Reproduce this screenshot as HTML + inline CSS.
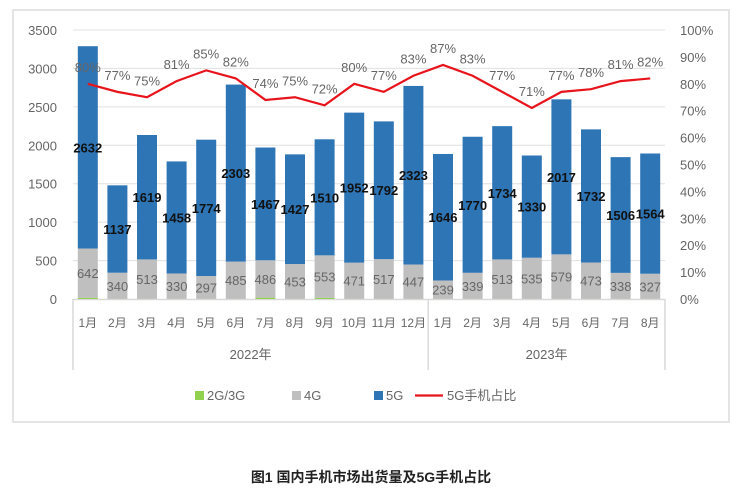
<!DOCTYPE html>
<html><head><meta charset="utf-8"><style>
body{margin:0;background:#fff;width:742px;height:495px;overflow:hidden;font-family:"Liberation Sans","Noto Sans CJK SC",sans-serif}
svg text{font-family:"Liberation Sans","Noto Sans CJK SC",sans-serif}
</style></head><body>
<svg id="c" width="742" height="495">
<rect x="13" y="10" width="716" height="412" fill="#fff" stroke="#e4e4e4" stroke-width="2"/>
<g id="g"></g>
<text x="371" y="482" text-anchor="middle" font-size="14" font-weight="bold" fill="#222">图1 国内手机市场出货量及5G手机占比</text>
</svg>
<script>
const months=["1月","2月","3月","4月","5月","6月","7月","8月","9月","10月","11月","12月","1月","2月","3月","4月","5月","6月","7月","8月"];
const v2g=[15,2,2,2,2,2,18,2,15,2,2,2,2,2,2,2,2,2,2,2];
const v4g=[642,340,513,330,297,485,486,453,553,471,517,447,239,339,513,535,579,473,338,327];
const v5g=[2632,1137,1619,1458,1774,2303,1467,1427,1510,1952,1792,2323,1646,1770,1734,1330,2017,1732,1506,1564];
const pct=[80,77,75,81,85,82,74,75,72,80,77,83,87,83,77,71,77,78,81,82];
const leftTicks=[0,500,1000,1500,2000,2500,3000,3500];
const rightTicks=[0,10,20,30,40,50,60,70,80,90,100];
const X0=73,X1=665,Y0=299,YT=30;
const bw=(X1-X0)/months.length;
const y=v=>Y0-v/3500*(Y0-YT);
const yp=p=>Y0-p/100*(Y0-YT);
const xc=i=>X0+bw*(i+0.5);
const g=document.getElementById('g');
const NS="http://www.w3.org/2000/svg";
function mk(t,a,txt){const e=document.createElementNS(NS,t);for(const k in a)e.setAttribute(k,a[k]);if(txt!==undefined)e.textContent=txt;g.appendChild(e);return e;}
leftTicks.forEach(t=>{
 if(t>0){const l=mk('line',{x1:X0,x2:X1,y1:y(t),y2:y(t),stroke:'#e0e0e0','stroke-width':1});
 
 }
 const e=mk('text',{x:57,y:y(t)+5,'text-anchor':'end','font-size':13,fill:'#666'},t);
 
 
});
rightTicks.forEach(t=>{
 const e=mk('text',{x:680,y:yp(t)+5,'font-size':13,fill:'#666'},t+'%');
 
 
});
const ax=mk('line',{x1:X0,x2:X1,y1:Y0+0.5,y2:Y0+0.5,stroke:'#d9d9d9','stroke-width':1.5});


[X0,X0+bw*12,X1].forEach(xx=>{
 const l=mk('line',{x1:xx,x2:xx,y1:Y0,y2:370,stroke:'#d9d9d9','stroke-width':1.5});
 
 
});
months.forEach((m,i)=>{
 const x=xc(i),w=20;
 const a=v2g[i],b=v4g[i],c=v5g[i];
 const r1=mk('rect',{x:x-w/2,y:y(a),width:w,height:Y0-y(a),fill:'#92d050'});
 
 
 const r2=mk('rect',{x:x-w/2,y:y(a+b),width:w,height:y(a)-y(a+b),fill:'#bfbfbf'});
 
 
 const r3=mk('rect',{x:x-w/2,y:y(a+b+c),width:w,height:y(a+b)-y(a+b+c),fill:'#2e75b6'});
 
 
 const t1=mk('text',{x:x,y:y(a+b/2)+5,'text-anchor':'middle','font-size':13,fill:'#666'},b);
 
 
 const t2=mk('text',{x:x,y:y(a+b+c/2)+5,'text-anchor':'middle','font-size':13,'font-weight':'bold',fill:'#111'},c);
 
 
 const t3=mk('text',{x:x,y:yp(pct[i])-12,'text-anchor':'middle','font-size':13,fill:'#666'},pct[i]+'%');
 
 
 const tm=mk('text',{x:x,y:327,'text-anchor':'middle','font-size':12,fill:'#666'},m);
 
 
});
const pl=mk('polyline',{points:pct.map((p,i)=>xc(i)+','+yp(p)).join(' '),fill:'none',stroke:'#e8141c','stroke-width':2.2});


const yr1=mk('text',{x:(X0+X0+bw*12)/2,y:359,'text-anchor':'middle','font-size':13,fill:'#666'},'2022年');


const yr2=mk('text',{x:(X0+bw*12+X1)/2,y:359,'text-anchor':'middle','font-size':13,fill:'#666'},'2023年');


const leg=[['#92d050','2G/3G',195],['#bfbfbf','4G',292],['#2e75b6','5G',374]];
leg.forEach(([col,lab,lx])=>{
 const r=mk('rect',{x:lx,y:391,width:9,height:9,fill:col});
 
 
 const t=mk('text',{x:lx+12,y:400,'font-size':13,fill:'#666'},lab);
 
 
});
const ll=mk('line',{x1:415,x2:443,y1:395.5,y2:395.5,stroke:'#e8141c','stroke-width':2.2});


const lt=mk('text',{x:447,y:400,'font-size':13,fill:'#666'},'5G手机占比');


</script>
</body></html>
